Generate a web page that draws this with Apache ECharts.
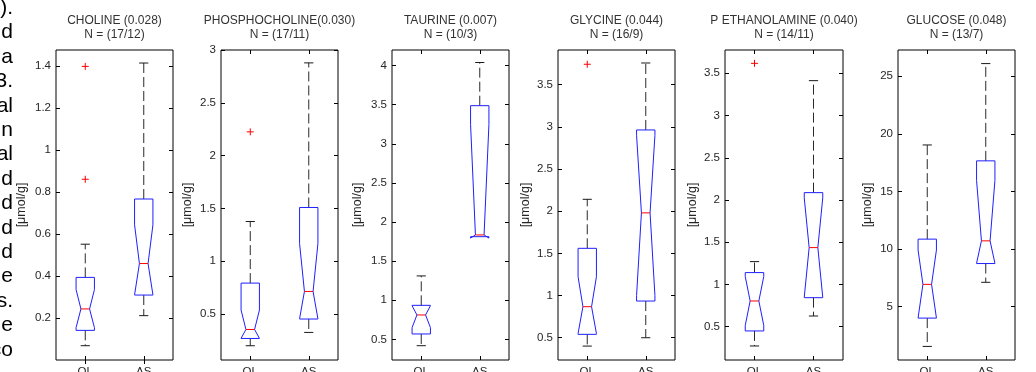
<!DOCTYPE html>
<html>
<head>
<meta charset="utf-8">
<script src="https://cdn.jsdelivr.net/npm/echarts@6/dist/echarts.min.js"></script>
<style>
html,body{margin:0;padding:0;background:#fff;overflow:hidden}
#c{width:1036px;height:372px}
</style>
</head>
<body>
<div id="c"></div>
<script>
// ---------- DATA ----------
const groups = ['OL', 'AS'];
const metabolites = ['CHOLINE', 'PHOSPHOCHOLINE', 'TAURINE', 'GLYCINE', 'P ETHANOLAMINE', 'GLUCOSE'];
const pValues = ['(0.028)', '(0.030)', '(0.007)', '(0.044)', '(0.040)', '(0.048)'];
const sampleSizes = ['N = (17/12)', 'N = (17/11)', 'N = (10/3)', 'N = (16/9)', 'N = (14/11)', 'N = (13/7)'];
const unitLabel = '[\u03bcmol/g]';

// box stats: [whiskerLow, q1, notchLow, median, notchHigh, q3, whiskerHigh]
const cholineOL        = [0.068, 0.141, 0.154, 0.243, 0.335, 0.393, 0.551];
const cholineAS        = [0.211, 0.309, 0.310, 0.459, 0.643, 0.766, 1.413];
const phosphocholineOL = [0.200, 0.269, 0.270, 0.354, 0.538, 0.793, 1.376];
const phosphocholineAS = [0.326, 0.453, 0.455, 0.714, 1.168, 1.509, 2.878];
const taurineOL        = [0.419, 0.569, 0.650, 0.812, 0.930, 0.935, 1.311];
const taurineAS        = [1.813, 1.813, 1.795, 1.835, 3.250, 3.488, 4.040];
const glycineOL        = [0.401, 0.540, 0.550, 0.868, 1.223, 1.560, 2.141];
const glycineAS        = [0.500, 0.935, 1.000, 1.980, 2.900, 2.963, 3.757];
const pEthanolamineOL  = [0.271, 0.449, 0.514, 0.804, 1.094, 1.140, 1.270];
const pEthanolamineAS  = [0.626, 0.843, 0.847, 1.436, 2.025, 2.087, 3.413];
const glucoseOL        = [1.53, 3.99, 4.00, 6.92, 9.90, 10.85, 19.03];
const glucoseAS        = [7.10, 8.73, 8.75, 10.70, 15.95, 17.65, 26.10];

// outliers (OL group)
const cholineOutliers        = [1.397, 0.860];
const phosphocholineOutliers = [2.225];
const taurineOutliers        = [];
const glycineOutliers        = [3.742];
const pEthanolamineOutliers  = [3.618];
const glucoseOutliers        = [];

// y-axis ranges and tick labels
const yMins = [0.0, 0.065, 0.236, 0.236, 0.105, 0.35];
const yMaxs = [1.475, 3.0, 4.2, 3.911, 3.776, 27.28];
const cholineTicks        = [0.2, 0.4, 0.6, 0.8, 1, 1.2, 1.4];
const phosphocholineTicks = [0.5, 1, 1.5, 2, 2.5, 3];
const taurineTicks        = [0.5, 1, 1.5, 2, 2.5, 3, 3.5, 4];
const glycineTicks        = [0.5, 1, 1.5, 2, 2.5, 3, 3.5];
const pEthanolamineTicks  = [0.5, 1, 1.5, 2, 2.5, 3, 3.5];
const glucoseTicks        = [5, 10, 15, 20, 25];

// left-margin fragment of surrounding document text
const marginText = [').', 'd', 'a', '3.', 'al', 'n', 'al', 'd', 'd', 'd', 'd', 'e', 's.', 'e', 'co'];

// ---------- ASSEMBLY ----------
const boxStats = [
  [cholineOL, cholineAS], [phosphocholineOL, phosphocholineAS], [taurineOL, taurineAS],
  [glycineOL, glycineAS], [pEthanolamineOL, pEthanolamineAS], [glucoseOL, glucoseAS]
];
const outliers = [cholineOutliers, phosphocholineOutliers, taurineOutliers, glycineOutliers, pEthanolamineOutliers, glucoseOutliers];
const ticks = [cholineTicks, phosphocholineTicks, taurineTicks, glycineTicks, pEthanolamineTicks, glucoseTicks];

// layout (pixels)
const gridLefts = [56, 221, 392, 558, 725, 898];
const gridWidths = [117, 117, 117, 117, 118, 117];
const nameGaps = [28, 27, 28, 26, 26, 24];
const gridTop = 50, gridHeight = 310;
const FONT = '"Liberation Sans", Arial, Helvetica, sans-serif';

function renderBox(params, api) {
  const xi = api.value(0);
  const v = [1, 2, 3, 4, 5, 6, 7].map(i => api.value(i));
  const c0 = api.coord([0, v[3]])[0], c1 = api.coord([1, v[3]])[0];
  const band = Math.abs(c1 - c0);
  const hw = band * 0.157, nw = hw * 0.47, cw = hw * 0.5;
  const cx = api.coord([xi, v[3]])[0];
  const y = v.map(val => api.coord([xi, val])[1]);
  const [yWL, yQ1, yNL, yMed, yNH, yQ3, yWH] = y;
  const ch = [];
  const dash = { stroke: '#2a2a2a', lineWidth: 1, lineDash: [10, 4], fill: null };
  const solid = { stroke: '#1a1a1a', lineWidth: 1, fill: null };
  if (Math.abs(yWH - yQ3) > 0.5) {
    ch.push({ type: 'line', shape: { x1: cx, y1: yQ3, x2: cx, y2: yWH }, style: dash });
    ch.push({ type: 'line', shape: { x1: cx - cw, y1: yWH, x2: cx + cw, y2: yWH }, style: solid });
  }
  if (Math.abs(yWL - yQ1) > 0.5) {
    ch.push({ type: 'line', shape: { x1: cx, y1: yQ1, x2: cx, y2: yWL }, style: dash });
    ch.push({ type: 'line', shape: { x1: cx - cw, y1: yWL, x2: cx + cw, y2: yWL }, style: solid });
  }
  const pts = [
    [cx - hw, yQ1], [cx - hw, yNL], [cx - nw, yMed], [cx - hw, yNH], [cx - hw, yQ3],
    [cx + hw, yQ3], [cx + hw, yNH], [cx + nw, yMed], [cx + hw, yNL], [cx + hw, yQ1]
  ];
  ch.push({ type: 'polygon', shape: { points: pts }, style: { stroke: '#1f1fff', lineWidth: 1, fill: null } });
  ch.push({ type: 'line', shape: { x1: cx - nw, y1: yMed, x2: cx + nw, y2: yMed }, style: { stroke: '#ff0000', lineWidth: 1 } });
  return { type: 'group', children: ch };
}

function renderPlus(params, api) {
  const p = api.coord([api.value(0), api.value(1)]);
  const s = 3.5;
  return {
    type: 'group', children: [
      { type: 'line', shape: { x1: p[0] - s, y1: p[1], x2: p[0] + s, y2: p[1] }, style: { stroke: '#ff0000', lineWidth: 1 } },
      { type: 'line', shape: { x1: p[0], y1: p[1] - s, x2: p[0], y2: p[1] + s }, style: { stroke: '#ff0000', lineWidth: 1 } }
    ]
  };
}

const grid = [], xAxis = [], yAxis = [], series = [], graphic = [];
for (let i = 0; i < 6; i++) {
  grid.push({ left: gridLefts[i], top: gridTop, width: gridWidths[i], height: gridHeight,
    outerBoundsMode: 'none', containLabel: false,
    show: true, borderColor: '#000', borderWidth: 1, backgroundColor: 'transparent' });
  const xBase = {
    gridIndex: i, type: 'category', data: groups, boundaryGap: true,
    axisLine: { show: false }, splitLine: { show: false },
    axisTick: { show: true, inside: true, alignWithLabel: true, length: 4, interval: 0, lineStyle: { color: '#000' } }
  };
  xAxis.push(Object.assign({}, xBase, { position: 'bottom',
    axisLabel: { show: true, interval: 0, margin: 6, fontSize: 11.5, color: '#262626', fontFamily: FONT } }));
  xAxis.push(Object.assign({}, xBase, { position: 'top', axisLabel: { show: false } }));
  const yBase = {
    gridIndex: i, type: 'value', min: yMins[i], max: yMaxs[i],
    axisLine: { show: false }, splitLine: { show: false },
    axisTick: { show: true, inside: true, length: 4, customValues: ticks[i], lineStyle: { color: '#000' } }
  };
  yAxis.push(Object.assign({}, yBase, { position: 'left',
    axisLabel: { show: true, customValues: ticks[i], margin: 5, fontSize: 11.5, color: '#262626', fontFamily: FONT },
    name: unitLabel, nameLocation: 'middle', nameGap: nameGaps[i], nameRotate: 90,
    nameTextStyle: { fontSize: 12.5, color: '#262626', fontFamily: FONT } }));
  yAxis.push(Object.assign({}, yBase, { position: 'right', axisLabel: { show: false } }));

  series.push({
    type: 'custom', xAxisIndex: 2 * i, yAxisIndex: 2 * i, renderItem: renderBox, silent: true,
    data: boxStats[i].map((s, k) => [k].concat(s)), clip: false
  });
  series.push({
    type: 'custom', xAxisIndex: 2 * i, yAxisIndex: 2 * i, renderItem: renderPlus, silent: true,
    data: outliers[i].map(v => [0, v]), clip: false
  });

  const cx = gridLefts[i] + gridWidths[i] / 2;
  graphic.push({ type: 'text', x: cx, y: 20.5, silent: true,
    style: { text: metabolites[i] + (i === 1 ? '' : ' ') + pValues[i], textAlign: 'center', textVerticalAlign: 'middle',
      font: '12px ' + FONT, fill: '#333' } });
  graphic.push({ type: 'text', x: cx, y: 34.5, silent: true,
    style: { text: sampleSizes[i], textAlign: 'center', textVerticalAlign: 'middle',
      font: '12px ' + FONT, fill: '#333' } });
}
marginText.forEach((t, k) => {
  graphic.push({ type: 'text', x: 13, y: 15.6 + k * 24.4 - 7.3, silent: true,
    style: { text: t, textAlign: 'right', textVerticalAlign: 'middle', font: '21px ' + FONT, fill: '#000' } });
});

const chart = echarts.init(document.getElementById('c'), null, { renderer: 'canvas' });
chart.setOption({
  animation: false,
  backgroundColor: '#fff',
  grid, xAxis, yAxis, series, graphic
});
</script>
</body>
</html>
